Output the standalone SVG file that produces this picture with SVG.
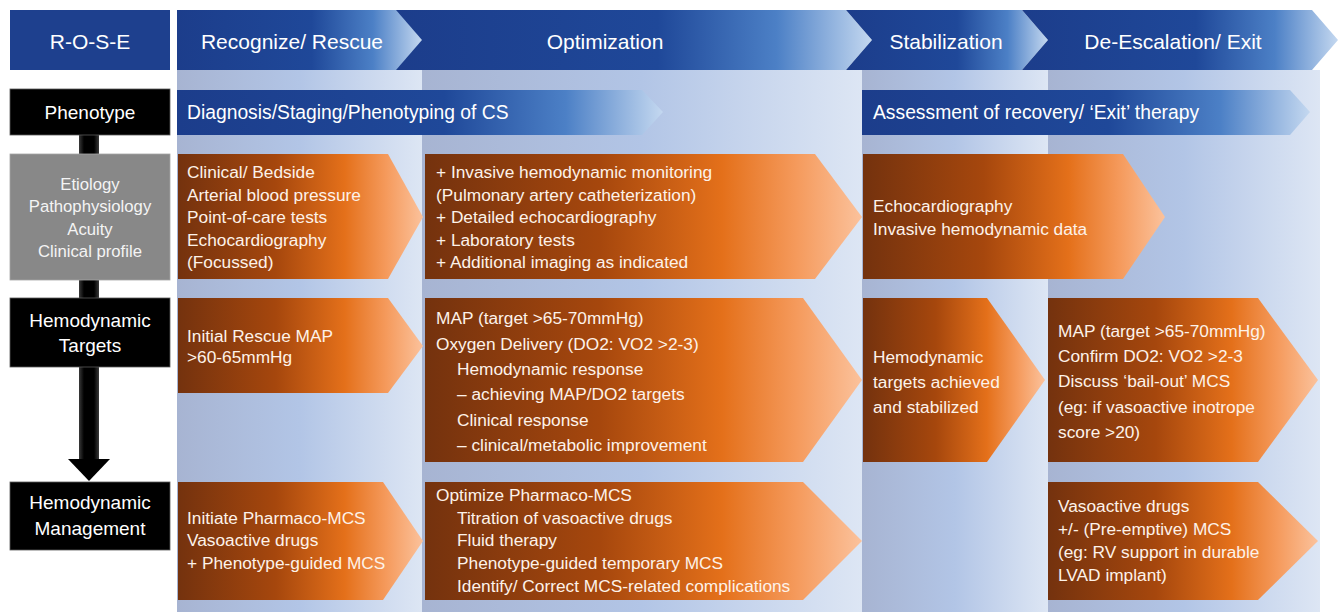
<svg xmlns="http://www.w3.org/2000/svg" width="1343" height="612" viewBox="0 0 1343 612">
  <defs>
    <!-- blue phase chevrons: dark on the left, fading to pale at the point -->
    <linearGradient id="blueFade" x1="0" y1="0" x2="1" y2="0">
      <stop offset="0" stop-color="#1c3d8b"/>
      <stop offset="0.55" stop-color="#1f4899"/>
      <stop offset="0.8" stop-color="#4c80c6"/>
      <stop offset="1" stop-color="#c4d8f0"/>
    </linearGradient>
    <!-- pale column backgrounds -->
    <linearGradient id="colFade" x1="0" y1="0" x2="1" y2="0">
      <stop offset="0" stop-color="#a7b4d2"/>
      <stop offset="0.5" stop-color="#b2c5e6"/>
      <stop offset="1" stop-color="#dde6f4"/>
    </linearGradient>
    <!-- orange step boxes -->
    <linearGradient id="orangeFade" x1="0" y1="0" x2="1" y2="0">
      <stop offset="0" stop-color="#74320e"/>
      <stop offset="0.4" stop-color="#a6470d"/>
      <stop offset="0.68" stop-color="#e4701a"/>
      <stop offset="0.85" stop-color="#f59a5c"/>
      <stop offset="1" stop-color="#fbc29c"/>
    </linearGradient>
    <!-- vertical spine of the left column -->
    <linearGradient id="spine" x1="0" y1="0" x2="1" y2="0">
      <stop offset="0" stop-color="#3a3a3a"/>
      <stop offset="0.25" stop-color="#000"/>
      <stop offset="0.75" stop-color="#000"/>
      <stop offset="1" stop-color="#3a3a3a"/>
    </linearGradient>
    <style>
      .hdr { font-family: "Liberation Sans", Arial, sans-serif; font-size: 21px; fill: #ffffff; text-anchor: middle; }
      .row { font-family: "Liberation Sans", Arial, sans-serif; font-size: 19.3px; fill: #ffffff; }
      .lbl { font-family: "Liberation Sans", Arial, sans-serif; font-size: 19px; fill: #ffffff; text-anchor: middle; }
      .lbl-sm { font-family: "Liberation Sans", Arial, sans-serif; font-size: 16.7px; fill: #f4f4f4; text-anchor: middle; }
      .body { font-family: "Liberation Sans", Arial, sans-serif; font-size: 17.3px; fill: #fdf2e9; }
      .chev { fill: url(#blueFade); }
      .col { fill: url(#colFade); }
      .step { fill: url(#orangeFade); }
      .blk { fill: #000000; stroke: #5a5a5a; stroke-width: 0.8; }
      .gry { fill: #888888; stroke: #a5a5a5; stroke-width: 0.8; }
    </style>
  </defs>

  <rect width="1343" height="612" fill="#ffffff"/>

  <!-- column backgrounds -->
  <g id="columns">
    <rect class="col" x="177" y="70" width="245" height="542"/>
    <rect class="col" x="422" y="70" width="440" height="542"/>
    <rect class="col" x="862" y="70" width="186" height="542"/>
    <rect class="col" x="1048" y="70" width="272" height="542"/>
  </g>

  <!-- header row -->
  <g id="rose">
    <rect x="10" y="10" width="160" height="60" fill="#1e408e"/>
    <text class="hdr" x="90" y="49">R-O-S-E</text>
  </g>
  <g id="phase-optimization">
    <polygon class="chev" points="396,10 846,10 872,40 846,70 396,70"/>
    <text class="hdr" x="605" y="49">Optimization</text>
  </g>
  <g id="phase-recognize">
    <polygon class="chev" points="177,10 396,10 422,40 396,70 177,70"/>
    <text class="hdr" x="292" y="49">Recognize/ Rescue</text>
  </g>
  <g id="phase-stabilization">
    <polygon class="chev" points="846,10 1022,10 1048,40 1022,70 846,70 872,40"/>
    <text class="hdr" x="946" y="49">Stabilization</text>
  </g>
  <g id="phase-deescalation">
    <polygon class="chev" points="1022,10 1312,10 1338,40 1312,70 1022,70 1048,40"/>
    <text class="hdr" x="1173" y="49">De-Escalation/ Exit</text>
  </g>

  <!-- left spine with arrowhead -->
  <g id="connectors">
    <rect x="79" y="134" width="20" height="326" fill="url(#spine)"/>
    <polygon points="68,459 110,459 89,481" fill="#000000"/>
  </g>

  <!-- left labels -->
  <g id="label-phenotype">
    <rect class="blk" x="10" y="89" width="160" height="46"/>
    <text class="lbl" x="90" y="119">Phenotype</text>
  </g>
  <g id="label-etiology">
    <rect class="gry" x="10" y="154" width="160" height="126"/>
    <text class="lbl-sm" x="90" y="190">Etiology</text>
    <text class="lbl-sm" x="90" y="212">Pathophysiology</text>
    <text class="lbl-sm" x="90" y="235">Acuity</text>
    <text class="lbl-sm" x="90" y="257">Clinical profile</text>
  </g>
  <g id="label-targets">
    <rect class="blk" x="10" y="298" width="160" height="69"/>
    <text class="lbl" x="90" y="327">Hemodynamic</text>
    <text class="lbl" x="90" y="352">Targets</text>
  </g>
  <g id="label-management">
    <rect class="blk" x="10" y="482" width="160" height="68"/>
    <text class="lbl" x="90" y="509">Hemodynamic</text>
    <text class="lbl" x="90" y="535">Management</text>
  </g>

  <!-- phenotype row -->
  <g id="phenotyping">
    <polygon class="chev" points="177,90 642,90 663,112 642,135 177,135"/>
    <text class="row" x="187" y="119">Diagnosis/Staging/Phenotyping of CS</text>
  </g>
  <g id="recovery">
    <polygon class="chev" points="862,90 1290,90 1310,112 1290,135 862,135"/>
    <text class="row" x="873" y="119">Assessment of recovery/ ‘Exit’ therapy</text>
  </g>

  <!-- assessment row -->
  <g id="assess-rescue">
    <polygon class="step" points="178,154 388,154 423,217 388,279 178,279"/>
    <text class="body" x="187" y="178">Clinical/ Bedside</text>
    <text class="body" x="187" y="201">Arterial blood pressure</text>
    <text class="body" x="187" y="223">Point-of-care tests</text>
    <text class="body" x="187" y="246">Echocardiography</text>
    <text class="body" x="187" y="268">(Focussed)</text>
  </g>
  <g id="assess-optimization">
    <polygon class="step" points="425,154 815,154 862,217 815,279 425,279"/>
    <text class="body" x="436" y="178">+ Invasive hemodynamic monitoring</text>
    <text class="body" x="436" y="201">(Pulmonary artery catheterization)</text>
    <text class="body" x="436" y="223">+ Detailed echocardiography</text>
    <text class="body" x="436" y="246">+ Laboratory tests</text>
    <text class="body" x="436" y="268">+ Additional imaging as indicated</text>
  </g>
  <g id="assess-stabilization">
    <polygon class="step" points="863,154 1123,154 1165,217 1123,279 863,279"/>
    <text class="body" x="873" y="212">Echocardiography</text>
    <text class="body" x="873" y="235">Invasive hemodynamic data</text>
  </g>

  <!-- targets row -->
  <g id="targets-rescue">
    <polygon class="step" points="178,298 388,298 423,346 388,393 178,393"/>
    <text class="body" x="187" y="342">Initial Rescue MAP</text>
    <text class="body" x="187" y="363">&gt;60-65mmHg</text>
  </g>
  <g id="targets-optimization">
    <polygon class="step" points="425,298 803,298 862,380 803,462 425,462"/>
    <text class="body" x="436" y="324">MAP (target &gt;65-70mmHg)</text>
    <text class="body" x="436" y="350">Oxygen Delivery (DO2: VO2 &gt;2-3)</text>
    <text class="body" x="457" y="375">Hemodynamic response</text>
    <text class="body" x="457" y="400">– achieving MAP/DO2 targets</text>
    <text class="body" x="457" y="426">Clinical response</text>
    <text class="body" x="457" y="451">– clinical/metabolic improvement</text>
  </g>
  <g id="targets-stabilization">
    <polygon class="step" points="863,298 987,298 1045,380 987,462 863,462"/>
    <text class="body" x="873" y="363">Hemodynamic</text>
    <text class="body" x="873" y="388">targets achieved</text>
    <text class="body" x="873" y="413">and stabilized</text>
  </g>
  <g id="targets-deescalation">
    <polygon class="step" points="1048,298 1258,298 1318,380 1258,462 1048,462"/>
    <text class="body" x="1058" y="337">MAP (target &gt;65-70mmHg)</text>
    <text class="body" x="1058" y="362">Confirm DO2: VO2 &gt;2-3</text>
    <text class="body" x="1058" y="387">Discuss ‘bail-out’ MCS</text>
    <text class="body" x="1058" y="413">(eg: if vasoactive inotrope</text>
    <text class="body" x="1058" y="438">score &gt;20)</text>
  </g>

  <!-- management row -->
  <g id="manage-rescue">
    <polygon class="step" points="178,482 383,482 423,541 383,600 178,600"/>
    <text class="body" x="187" y="524">Initiate Pharmaco-MCS</text>
    <text class="body" x="187" y="546">Vasoactive drugs</text>
    <text class="body" x="187" y="569">+ Phenotype-guided MCS</text>
  </g>
  <g id="manage-optimization">
    <polygon class="step" points="425,482 803,482 862,541 803,600 425,600"/>
    <text class="body" x="436" y="501">Optimize Pharmaco-MCS</text>
    <text class="body" x="457" y="524">Titration of vasoactive drugs</text>
    <text class="body" x="457" y="546">Fluid therapy</text>
    <text class="body" x="457" y="569">Phenotype-guided temporary MCS</text>
    <text class="body" x="457" y="592">Identify/ Correct MCS-related complications</text>
  </g>
  <g id="manage-deescalation">
    <polygon class="step" points="1048,482 1258,482 1318,541 1258,600 1048,600"/>
    <text class="body" x="1058" y="512">Vasoactive drugs</text>
    <text class="body" x="1058" y="535">+/- (Pre-emptive) MCS</text>
    <text class="body" x="1058" y="558">(eg: RV support in durable</text>
    <text class="body" x="1058" y="581">LVAD implant)</text>
  </g>
</svg>
